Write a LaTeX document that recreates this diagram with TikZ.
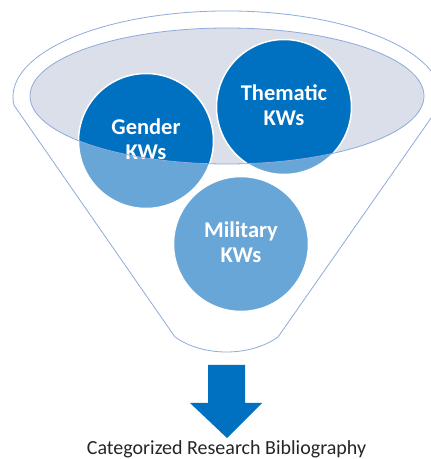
\documentclass[tikz,border=0pt]{standalone}
\usepackage{fontspec}
\setmainfont{Carlito}
\definecolor{darkblue}{HTML}{0070C0}
\definecolor{lightblue}{HTML}{69A6D8}
\definecolor{funnelline}{HTML}{8FAADC}
\definecolor{bowlfill}{HTML}{DADFE9}
\begin{document}
\begin{tikzpicture}[x=1pt,y=1pt,
  kwtext/.style={text=white,font=\fontsize{22.5}{25}\selectfont\bfseries,align=center},
  funnelstroke/.style={draw=funnelline,line width=0.8pt},
  kwcircle/.style={circle,minimum size=135pt,inner sep=0pt}]
\useasboundingbox (0,0) rectangle (431,459);
\fill[white] (0,0) rectangle (431,459);
% outer funnel outline
\coordinate (fbl) at (175,122);
\coordinate (fbr) at (278,122);
\draw[funnelstroke] (fbl) -- (14,353.8)
  arc[start angle=185.5,end angle=-5.5,x radius=214pt,y radius=86pt] -- (fbr)
  .. controls (250,102) and (203,102) .. (fbl);
% inner bowl
\fill[bowlfill] (227,363) ellipse[x radius=197pt,y radius=68pt];
% circles (light part)
\coordinate (cg) at (146,318);
\coordinate (ct) at (284,352);
\coordinate (cm) at (241,215);
\foreach \c in {cg,ct,cm}{
  \fill[lightblue] (\c) circle[radius=67.5pt];
}
% dark part inside the bowl
\begin{scope}
  \clip (227,363) ellipse[x radius=197pt,y radius=68pt];
  \foreach \c in {cg,ct,cm}{
    \fill[darkblue] (\c) circle[radius=67.5pt];
  }
\end{scope}
\foreach \c in {cg,ct,cm}{
  \draw[white,line width=1.5pt] (\c) circle[radius=67.5pt];
}
% labels
\node[kwtext] (gender) at (146,320) {Gender\\KWs};
\node[kwtext] (thematic) at (284,353.5) {Thematic\\KWs};
\node[kwtext] (military) at (241,217) {Military\\KWs};
% bowl outline on top
\draw[funnelstroke] (227,363) ellipse[x radius=197pt,y radius=68pt];
% arrow
\fill[darkblue] (208,94) -- (245,94) -- (245,56) -- (262,56) -- (227,21)
  -- (190,56) -- (208,56) -- cycle;
\node[anchor=base,font=\fontsize{20}{24}\selectfont,text=black!85] (result) at (226.5,5) {Categorized Research Bibliography};
\end{tikzpicture}
\end{document}
